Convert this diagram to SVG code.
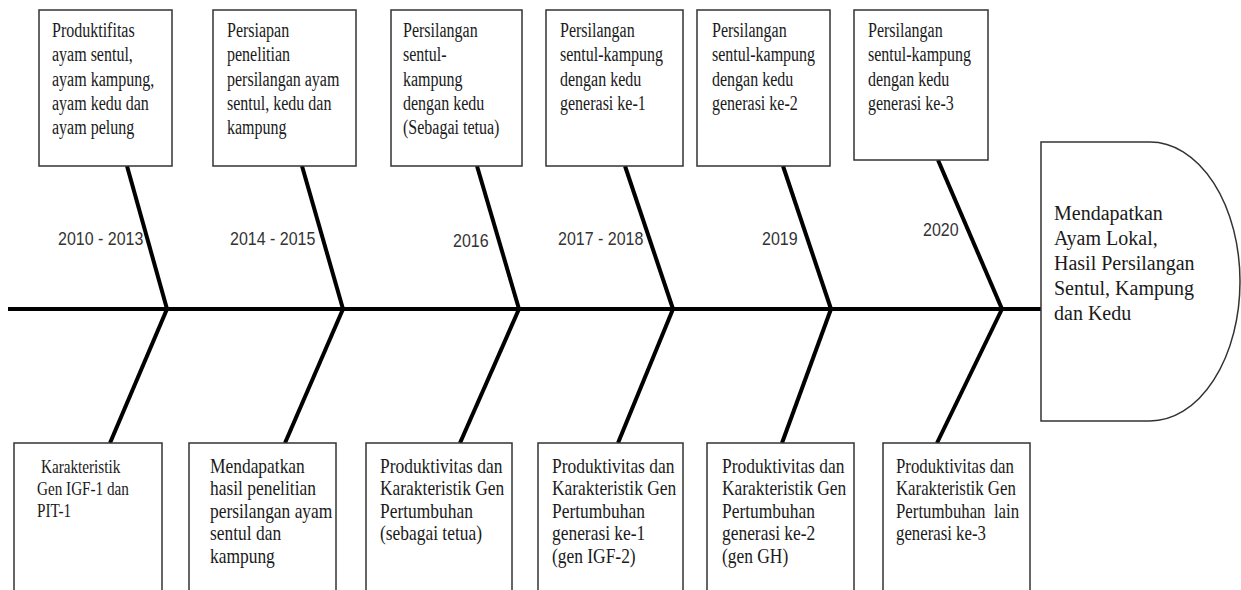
<svg xmlns="http://www.w3.org/2000/svg" width="1241" height="590" viewBox="0 0 1241 590">
<style>
.box{fill:#fff;stroke:#333;stroke-width:1.5}
.bone{stroke:#000;stroke-width:4;fill:none;stroke-linecap:butt}
.t{font-family:"Liberation Serif","Times New Roman",serif;fill:#1a1a1a}
.tt{font-size:20px}
.bt{font-size:21px}
.yr{font-family:"Liberation Sans",Arial,sans-serif;font-size:18px;fill:#333}
.head{font-family:"Liberation Serif","Times New Roman",serif;font-size:20px;fill:#1a1a1a}
</style>
<rect width="1241" height="590" fill="#fff"/>
<g id="connectors">
<line class="bone" x1="8" y1="309" x2="1041" y2="309"/>
<line class="bone" x1="127" y1="166" x2="167" y2="309"/>
<line class="bone" x1="302" y1="166" x2="343" y2="309"/>
<line class="bone" x1="477" y1="166" x2="519" y2="309"/>
<line class="bone" x1="625" y1="166" x2="673" y2="309"/>
<line class="bone" x1="783" y1="166" x2="831" y2="309"/>
<line class="bone" x1="938" y1="160" x2="1002" y2="309"/>
<line class="bone" x1="167" y1="309" x2="110" y2="443"/>
<line class="bone" x1="343" y1="309" x2="285" y2="443"/>
<line class="bone" x1="519" y1="309" x2="460" y2="443"/>
<line class="bone" x1="673" y1="309" x2="618" y2="443"/>
<line class="bone" x1="831" y1="309" x2="782" y2="443"/>
<line class="bone" x1="1002" y1="309" x2="937" y2="443"/>
</g>
<g id="years">
<text class="yr" transform="translate(58,245) scale(0.89,1)">2010 - 2013</text>
<text class="yr" transform="translate(230,245) scale(0.89,1)">2014 - 2015</text>
<text class="yr" transform="translate(453,247) scale(0.89,1)">2016</text>
<text class="yr" transform="translate(558,245) scale(0.89,1)">2017 - 2018</text>
<text class="yr" transform="translate(762,245) scale(0.89,1)">2019</text>
<text class="yr" transform="translate(923,236) scale(0.89,1)">2020</text>
</g>
<g id="top1">
<rect class="box" x="39" y="10" width="133" height="156"/>
<text class="t tt" transform="translate(52,37) scale(0.8,1)"><tspan x="0" y="0">Produktifitas</tspan><tspan x="0" y="24.3">ayam sentul,</tspan><tspan x="0" y="48.6">ayam kampung,</tspan><tspan x="0" y="72.9">ayam kedu dan</tspan><tspan x="0" y="97.2">ayam pelung</tspan></text>
</g>
<g id="top2">
<rect class="box" x="213" y="10" width="143" height="156"/>
<text class="t tt" transform="translate(227,37) scale(0.8,1)"><tspan x="0" y="0">Persiapan</tspan><tspan x="0" y="24.3">penelitian</tspan><tspan x="0" y="48.6">persilangan ayam</tspan><tspan x="0" y="72.9">sentul, kedu dan</tspan><tspan x="0" y="97.2">kampung</tspan></text>
</g>
<g id="top3">
<rect class="box" x="391" y="10" width="131" height="156"/>
<text class="t tt" transform="translate(403,37) scale(0.8,1)"><tspan x="0" y="0">Persilangan</tspan><tspan x="0" y="24.3">sentul-</tspan><tspan x="0" y="48.6">kampung</tspan><tspan x="0" y="72.9">dengan kedu</tspan><tspan x="0" y="97.2">(Sebagai tetua)</tspan></text>
</g>
<g id="top4">
<rect class="box" x="546" y="10" width="137" height="156"/>
<text class="t tt" transform="translate(560,37) scale(0.8,1)"><tspan x="0" y="0">Persilangan</tspan><tspan x="0" y="24.3">sentul-kampung</tspan><tspan x="0" y="48.6">dengan kedu</tspan><tspan x="0" y="72.9">generasi ke-1</tspan></text>
</g>
<g id="top5">
<rect class="box" x="697" y="10" width="133" height="156"/>
<text class="t tt" transform="translate(712,37) scale(0.8,1)"><tspan x="0" y="0">Persilangan</tspan><tspan x="0" y="24.3">sentul-kampung</tspan><tspan x="0" y="48.6">dengan kedu</tspan><tspan x="0" y="72.9">generasi ke-2</tspan></text>
</g>
<g id="top6">
<rect class="box" x="854" y="10" width="134" height="150"/>
<text class="t tt" transform="translate(868,37) scale(0.8,1)"><tspan x="0" y="0">Persilangan</tspan><tspan x="0" y="24.3">sentul-kampung</tspan><tspan x="0" y="48.6">dengan kedu</tspan><tspan x="0" y="72.9">generasi ke-3</tspan></text>
</g>
<g id="head">
<path class="box" d="M1041,142 H1150 A90,139.5 0 0 1 1150,421 H1041 Z"/>
<text class="head"><tspan x="1054" y="220">Mendapatkan</tspan><tspan x="1054" y="245">Ayam Lokal,</tspan><tspan x="1054" y="270">Hasil Persilangan</tspan><tspan x="1054" y="295">Sentul, Kampung</tspan><tspan x="1054" y="320">dan Kedu</tspan></text>
</g>
<g id="bottom1">
<rect class="box" x="14" y="443" width="148" height="150"/>
<text class="t" font-size="19" transform="translate(37,473) scale(0.8,1)"><tspan x="5" y="0">Karakteristik</tspan><tspan x="0" y="22">Gen IGF-1 dan</tspan><tspan x="0" y="44">PIT-1</tspan></text>
</g>
<g id="bottom2">
<rect class="box" x="189" y="443" width="147" height="150"/>
<text class="t bt" transform="translate(210,473) scale(0.83,1)"><tspan x="0" y="0">Mendapatkan</tspan><tspan x="0" y="22.5">hasil penelitian</tspan><tspan x="0" y="45">persilangan ayam</tspan><tspan x="0" y="67.5">sentul dan</tspan><tspan x="0" y="90">kampung</tspan></text>
</g>
<g id="bottom3">
<rect class="box" x="366" y="443" width="146" height="150"/>
<text class="t bt" transform="translate(380,473) scale(0.83,1)"><tspan x="0" y="0">Produktivitas dan</tspan><tspan x="0" y="22.5">Karakteristik Gen</tspan><tspan x="0" y="45">Pertumbuhan</tspan><tspan x="0" y="67.5">(sebagai tetua)</tspan></text>
</g>
<g id="bottom4">
<rect class="box" x="538" y="443" width="145" height="150"/>
<text class="t bt" transform="translate(552,473) scale(0.83,1)"><tspan x="0" y="0">Produktivitas dan</tspan><tspan x="0" y="22.5">Karakteristik Gen</tspan><tspan x="0" y="45">Pertumbuhan</tspan><tspan x="0" y="67.5">generasi ke-1</tspan><tspan x="0" y="90">(gen IGF-2)</tspan></text>
</g>
<g id="bottom5">
<rect class="box" x="707" y="443" width="147" height="150"/>
<text class="t bt" transform="translate(722,473) scale(0.83,1)"><tspan x="0" y="0">Produktivitas dan</tspan><tspan x="0" y="22.5">Karakteristik Gen</tspan><tspan x="0" y="45">Pertumbuhan</tspan><tspan x="0" y="67.5">generasi ke-2</tspan><tspan x="0" y="90">(gen GH)</tspan></text>
</g>
<g id="bottom6">
<rect class="box" x="883" y="443" width="147" height="150"/>
<text class="t bt" xml:space="preserve" transform="translate(896,473) scale(0.8,1)"><tspan x="0" y="0">Produktivitas dan</tspan><tspan x="0" y="22.5">Karakteristik Gen</tspan><tspan x="0" y="45">Pertumbuhan  lain</tspan><tspan x="0" y="67.5">generasi ke-3</tspan></text>
</g>
</svg>
